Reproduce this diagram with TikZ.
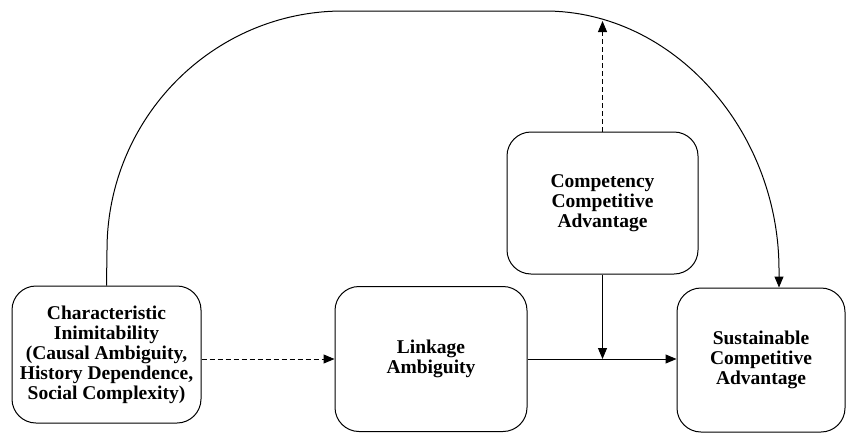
\documentclass[tikz,border=0pt]{standalone}
\usepackage{fontspec}
\setmainfont{Liberation Serif}
\usetikzlibrary{arrows.meta}
\begin{document}
\begin{tikzpicture}[x=1pt,y=-1pt,
  box/.style={draw, line width=1pt, rounded corners=24pt, align=center,
    font=\fontsize{19.5}{20}\selectfont\bfseries, inner sep=0pt},
  conn/.style={line width=1pt, -{Triangle[length=11pt,width=9pt]}},
  dconn/.style={conn, dash pattern=on 5pt off 3pt}]
\useasboundingbox (0,0) rectangle (856,434);
\node[box, minimum width=189pt, minimum height=137pt] (b1) at (106.5,354.5)
  {Characteristic\\Inimitability\\(Causal Ambiguity,\\History Dependence,\\Social Complexity)};
\node[box, minimum width=192pt, minimum height=145pt] (b2) at (431,359)
  {Linkage\\Ambiguity};
\node[box, minimum width=191pt, minimum height=142pt] (b3) at (602.5,203)
  {Competency\\Competitive\\Advantage};
\node[box, minimum width=168pt, minimum height=144pt] (b4) at (761,360)
  {Sustainable\\Competitive\\Advantage};
\coordinate (ae) at (779,0);
\coordinate (up) at (602.5,21);
% arc over the top
\draw[conn] (b1.north) -- (107,250)
  .. controls (107,118) and (213,11) .. (343,11)
  -- (545,11)
  .. controls (674,11) and (779,131) .. (779,270)
  -- (b4.north -| ae);
\draw[dconn] (b1.east |- b2.west) -- (b2.west);
\draw[conn] (b2.east) -- (b4.west |- b2.east);
\draw[dconn] (b3.north) -- (up);
\draw[conn] (b3.south) -- (b3.south |- b2.east);
\end{tikzpicture}
\end{document}
